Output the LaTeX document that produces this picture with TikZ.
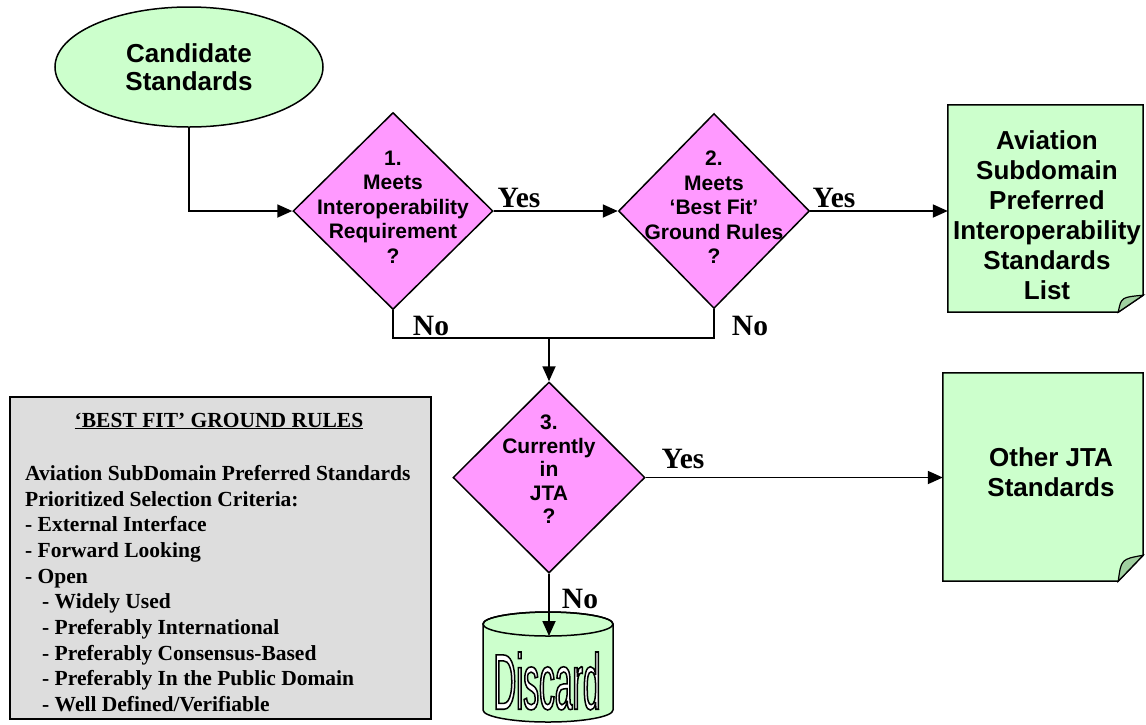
\documentclass[tikz,border=0pt]{standalone}
\usepackage{fontspec}
\setmainfont{Liberation Serif}
\newfontfamily\sansf{Liberation Sans}
\newfontfamily\narrowf[FakeStretch=0.40]{Liberation Sans}
\usetikzlibrary{shapes.geometric,arrows.meta}
\definecolor{pinkd}{RGB}{255,153,255}
\definecolor{greenl}{RGB}{204,255,204}
\definecolor{greenf}{RGB}{160,208,160}
\definecolor{grayb}{RGB}{221,221,221}
\tikzset{
 conn/.style={line width=1.8pt},
 arr/.style={conn,-{Triangle[length=15pt,width=13pt]}},
 dia/.style={diamond,draw,line width=1.5pt,fill=pinkd,inner sep=0pt},
 diatext/.style={font=\sansf\bfseries\fontsize{21}{24.5}\selectfont,align=center,inner sep=0pt},
 doctext/.style={font=\sansf\bfseries\fontsize{26}{30}\selectfont,align=center,inner sep=0pt},
 docbody/.style={draw,line width=1.5pt,fill=greenl},
 fold/.style={draw,line width=1.2pt,fill=greenf},
 lbl/.style={font=\bfseries\fontsize{29.5}{30}\selectfont,inner sep=0pt},
 rulestext/.style={font=\bfseries\fontsize{21.5}{25.7}\selectfont,inner sep=0pt},
}
\begin{document}
\begin{tikzpicture}[x=1pt,y=-1pt]
\useasboundingbox (0,0) rectangle (1146,724);

% start ellipse
\node[ellipse,draw,line width=1.5pt,fill=greenl,minimum width=268,minimum height=120,
      font=\sansf\bfseries\fontsize{26}{28}\selectfont,align=center] (cand) at (189,67) {Candidate\\Standards};

% diamonds
\node[dia,minimum width=200,minimum height=197] (d1) at (393,211) {};
\node[diatext] (d1t) at ([yshift=4]d1.center) {1.\\Meets\\Interoperability\\Requirement\\?};
\node[dia,minimum width=191,minimum height=195] (d2) at (714,211) {};
\node[diatext] (d2t) at ([yshift=3.5]d2.center) {2.\\Meets\\‘Best Fit’\\Ground Rules\\?};
\node[dia,minimum width=192,minimum height=191] (d3) at (549,477.5) {};
\node[diatext,font=\sansf\bfseries\fontsize{21}{23.5}\selectfont] (d3t) at ([yshift=8]d3.center) {3.\\Currently\\in\\JTA\\?};

% documents
\node[minimum width=195,minimum height=207,inner sep=0] (avl) at (1045.5,208.5) {};
\path[docbody] (avl.north west) -- (avl.north east) -- ([yshift=17]avl.south east)
   -- ([xshift=-25]avl.south east) -- (avl.south west) -- cycle;
\path[fold] ([xshift=-25]avl.south east) .. controls ([xshift=-22,yshift=15]avl.south east) .. ([yshift=17]avl.south east) -- cycle;
\node[doctext] (avlt) at (1047,215) {Aviation\\Subdomain\\Preferred\\Interoperability\\Standards\\List};

\node[minimum width=200,minimum height=208,inner sep=0] (oth) at (1043,477) {};
\path[docbody] (oth.north west) -- (oth.north east) -- ([yshift=26]oth.south east)
   -- ([xshift=-25]oth.south east) -- (oth.south west) -- cycle;
\path[fold] ([xshift=-25]oth.south east) .. controls ([xshift=-22,yshift=22]oth.south east) .. ([yshift=26]oth.south east) -- cycle;
\node[doctext] (otht) at (1051,472) {Other JTA\\Standards};

% discard cylinder
\path[docbody] (483,624) -- (483,710) .. controls (483,716.6) and (512.1,722) .. (548,722)
   .. controls (583.9,722) and (613,716.6) .. (613,710) -- (613,624)
   .. controls (613,617.4) and (583.9,612) .. (548,612)
   .. controls (512.1,612) and (483,617.4) .. (483,624) -- cycle;
\draw[line width=1.5pt] (548,624) ellipse [x radius=65,y radius=12];
\coordinate (disctop) at (549,636);
\node[inner sep=0,font=\narrowf\fontsize{79}{80}\selectfont] (disc) at (547,681)
  {\color{white}\special{pdf:literal direct 0 G 1.5 w 2 Tr}Discard\special{pdf:literal direct 0 Tr}};

% ground rules box
\node[draw,line width=1.2pt,fill=grayb,minimum width=421,minimum height=322,inner sep=0] (rules) at (220.5,558) {};
\node[rulestext] (rtitle) at (219,421) {\underline{‘BEST FIT’ GROUND RULES}};
\node[rulestext,align=left,anchor=north west] (rbody) at (25,465)
 {Aviation SubDomain Preferred Standards\\
  Prioritized Selection Criteria:\\
  - External Interface\\
  - Forward Looking\\
  - Open\\
  \hspace*{17pt}- Widely Used\\
  \hspace*{17pt}- Preferably International\\
  \hspace*{17pt}- Preferably Consensus-Based\\
  \hspace*{17pt}- Preferably In the Public Domain\\
  \hspace*{17pt}- Well Defined/Verifiable};

% connectors
\draw[arr] (cand.south) -- (cand.south |- d1.west) -- (d1.west);
\draw[arr] (d1.east) -- (d2.west);
\draw[arr] (d2.east) -- (d2.east -| avl.west);
\coordinate (j) at (549,338);
\draw[conn] (d1.south) -- (d1.south |- j) -- (d2.south |- j) -- (d2.south);
\draw[arr] (j) -- (d3.north);
\draw[arr] (d3.east) -- (d3.east -| oth.west);
\draw[arr] (d3.south) -- (disctop);

% labels
\node[lbl] (y1) at (519,198) {Yes};
\node[lbl] (y2) at (834,198) {Yes};
\node[lbl] (y3) at (683,459) {Yes};
\node[lbl] (n1) at (431,326) {No};
\node[lbl] (n2) at (750,326) {No};
\node[lbl] (n3) at (580,599) {No};
\end{tikzpicture}
\end{document}
